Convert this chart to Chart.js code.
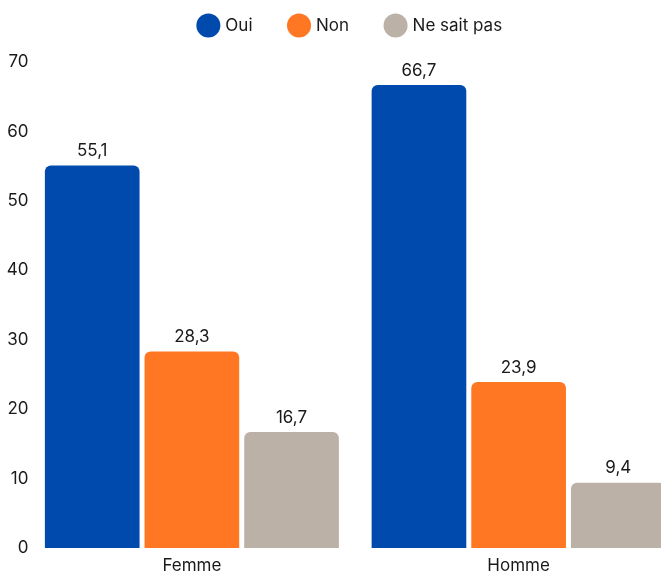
<!DOCTYPE html>
<html><head><meta charset="utf-8">
<script src="https://cdn.jsdelivr.net/npm/chart.js@4"></script>
<style>
html,body{margin:0;padding:0;background:#fff;overflow:hidden;width:661px;height:572px}
#wrap{width:684px;height:572px;position:relative}
</style></head>
<body><div id="wrap"><canvas id="c"></canvas></div>
<script>
const categories = ["Femme", "Homme"];
const seriesNames = ["Oui", "Non", "Ne sait pas"];
const oui = [55.1, 66.7];
const non = [28.3, 23.9];
const nsp = [16.7, 9.4];
const yTicks = [0, 10, 20, 30, 40, 50, 60, 70];
const colors = ["#004AAD", "#FF7722", "#BCB1A6"];

const FONT = "Inter, 'Open Sans', sans-serif";
const TXT = "#1a1a1a";

const valueLabels = {
  id: "valueLabels",
  afterDatasetsDraw(chart) {
    const ctx = chart.ctx;
    ctx.save();
    ctx.font = "17px " + FONT;
    ctx.fillStyle = TXT;
    ctx.textAlign = "center";
    ctx.textBaseline = "bottom";
    chart.data.datasets.forEach((ds, i) => {
      const meta = chart.getDatasetMeta(i);
      meta.data.forEach((bar, j) => {
        const v = ds.data[j];
        ctx.fillText(v.toFixed(1).replace(".", ","), bar.x, bar.y - 6);
      });
    });
    ctx.restore();
  }
};

const legendSpace = {
  id: "legendSpace",
  beforeInit(chart) {
    const orig = chart.legend.fit;
    chart.legend.fit = function () {
      orig.call(this);
      this.height = 83;
    };
  },
  afterLayout(chart) {
    chart.legend.left += 10;
    chart.legend.right += 10;
  }
};

const datasets = [oui, non, nsp].map((d, i) => ({
  label: seriesNames[i],
  data: d,
  backgroundColor: colors[i],
  borderRadius: {topLeft: 6, topRight: 6, bottomLeft: 0, bottomRight: 0},
  borderSkipped: false,
  categoryPercentage: 0.915,
  barPercentage: 0.95
}));

new Chart(document.getElementById("c"), {
  type: "bar",
  data: { labels: categories, datasets },
  plugins: [valueLabels, legendSpace],
  options: {
    responsive: true,
    maintainAspectRatio: false,
    animation: false,
    layout: { padding: { top: -21, right: 2, bottom: 0, left: 0 } },
    plugins: {
      legend: {
        position: "top",
        labels: {
          usePointStyle: true,
          pointStyle: "circle",
          boxWidth: 19,
          boxHeight: 19,
          padding: 38,
          color: TXT,
          font: { family: FONT, size: 17 }
        }
      },
      tooltip: { enabled: false }
    },
    scales: {
      x: {
        afterFit(scale) { scale.height = 24; },
        grid: { display: false, drawTicks: false },
        border: { display: false },
        ticks: { color: TXT, font: { family: FONT, size: 17 }, padding: 8 }
      },
      y: {
        min: 0, max: 70,
        afterBuildTicks(scale) { scale.ticks = yTicks.map(v => ({ value: v })); },
        afterFit(scale) { scale.width = 28.5; },
        grid: { display: false, drawTicks: false },
        border: { display: false },
        ticks: { color: TXT, font: { family: FONT, size: 17 }, padding: 0 }
      }
    }
  }
});
</script></body></html>
